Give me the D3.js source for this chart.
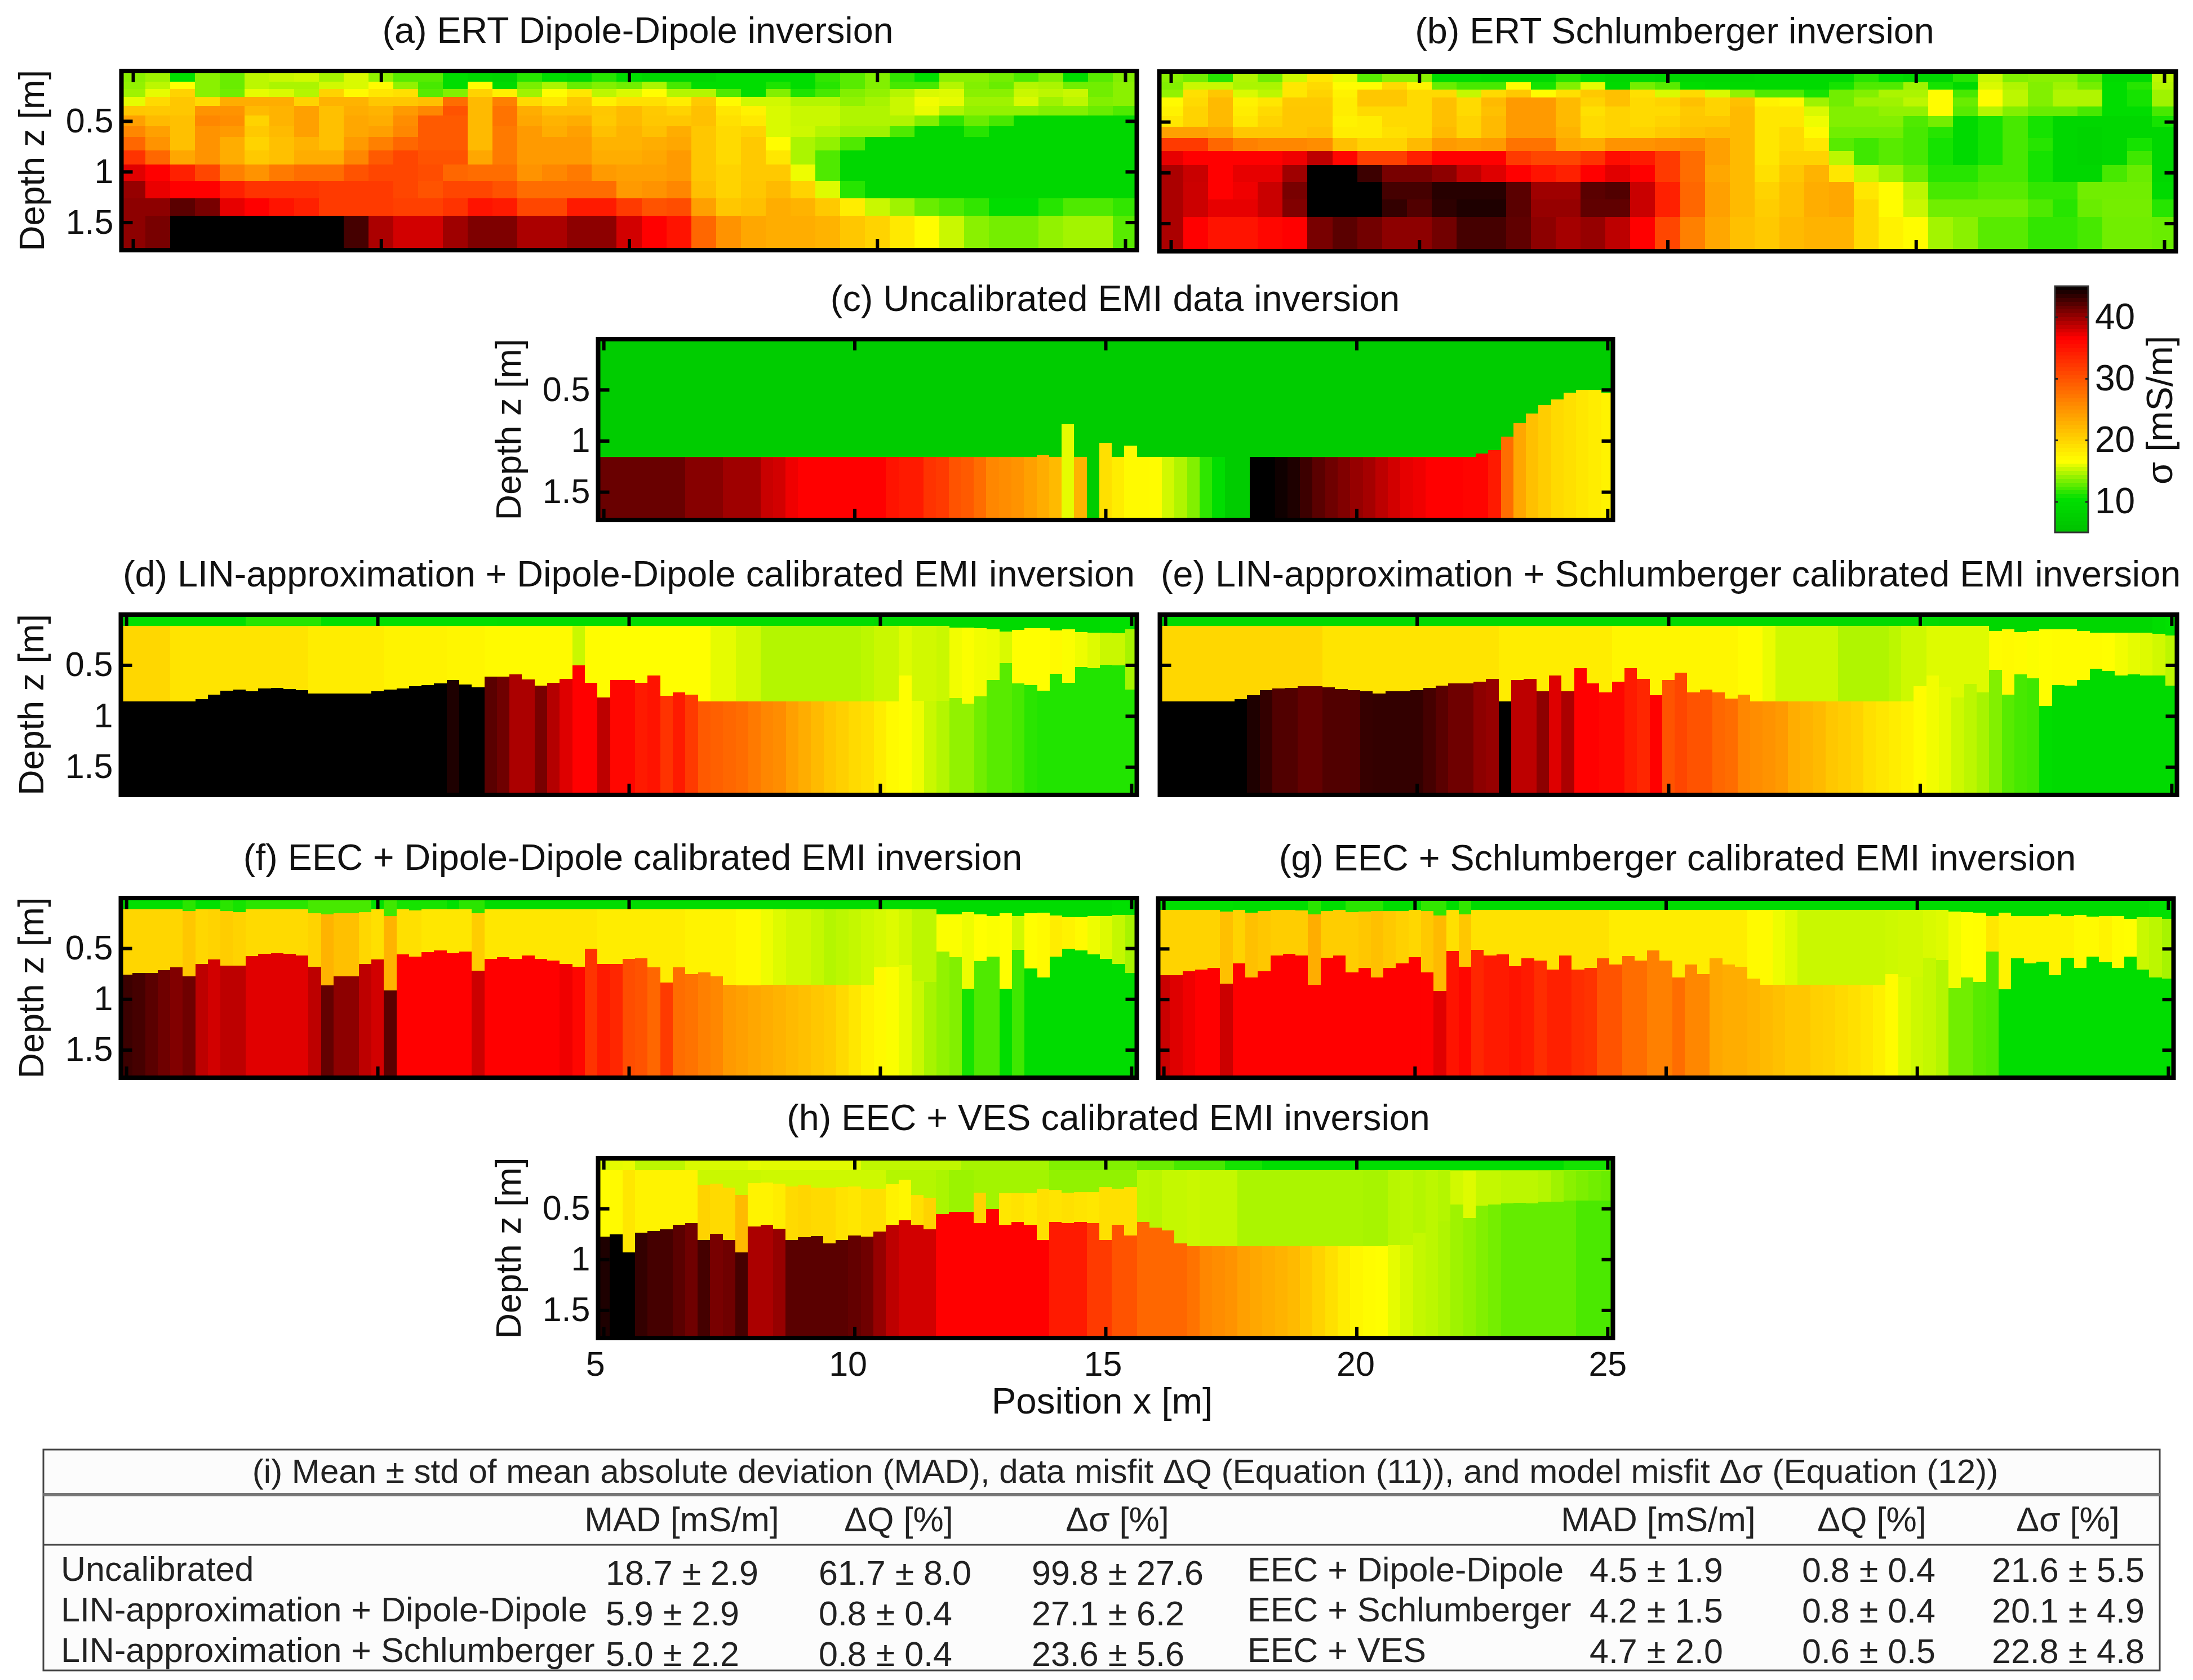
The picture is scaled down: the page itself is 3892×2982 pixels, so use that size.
<!DOCTYPE html>
<html lang="en">
<head>
<meta charset="UTF-8">
<title>ERT and EMI inversions</title>
<script src="https://d3js.org/d3.v7.min.js"></script>
<style>
    html, body { margin: 0; padding: 0; background: #fff; }
    svg { display: block; }
    text { font-family: "Liberation Sans", Arial, sans-serif; fill: #111; }
</style>
</head>
<body>
<div id="chart"></div>
<script>
// colour map of sigma [mS/m]
var sigmaStops = [5, 10.5, 16.6, 36.5, 45];
var sigmaColors = ["#00c000", "#00e000", "#ffff00", "#ff0000", "#000000"];
var colorbarTicks = [10, 20, 30, 40];
var positionTicks = [5, 10, 15, 20, 25];
var positionLabelShift = [-15, -12, -5, -2, 0];
var depthTicks = [0.5, 1, 1.5];

// ERT grids: 41 columns (0.5 m), 13 depth rows
var ertRowEdges = [0, .111, .185, .26, .352, .445, .551, .658, .788, .928, 1.09, 1.262, 1.437, 1.775];

var ertDipole = [
[13.8,14.3,10.5,13.8,13,15,15.3,15.5,14.5,15.7,14,12.6,12.6,10,9,8.5,11.4,10,9,11.4,10,9,9,9,10,10,10,10,11.7,12.6,13.6,11.7,10.5,13.8,13.8,13.3,12.4,13.6,10,12.6,13.6],
[14,15,16.6,13.8,13,15,14.6,14.6,15.5,15.7,17,14,12.2,10,16.8,9.5,13.4,14.6,13,13.6,13.2,14.6,12.2,10,10,10,11.2,10,11.4,12.6,13.6,12.2,12.2,14.8,13.6,13,14.8,14.6,13.2,13.2,13.8],
[14.3,16,20,13.8,13.2,16,15.7,14.8,20,17,18.5,19,12.6,13.6,20,17.8,14.3,16.8,18.5,15,15.7,16.7,14.8,14.8,12.4,10,13.6,11.2,12.2,13.6,14,14.8,15.7,15.8,13.8,13.8,15.3,15,15.3,13.2,13.8],
[16,19.5,21,19.5,23,23,23,20,22.5,22.5,21,21,21.5,28,22,26.5,19.5,18.5,21,17.8,19,19,18,20.8,17,15.5,15.5,14.8,14.8,14,14.5,15.3,16.3,16,14.3,14.3,15.7,14.3,15,13.6,13.8],
[21,20.8,21,25,25,22,22.5,24,21.5,23,22.5,24.5,26,30,22,27.5,23,21.5,21.5,21,22,20.8,20,21.5,18.5,17.6,15.7,15.3,15.3,14.7,14.7,15.3,16.1,14.7,14,14,14,13.6,13.6,13,12.4],
[24,22,21.5,26,25.5,20,22.5,24,21.5,23.5,23,25.5,29.5,29.5,22,27.5,23.5,22.5,23,20.8,22,21,21,21.5,19,18.3,15.7,15.3,15.3,14.7,14.7,14.7,13.6,11.6,13,12.2,9,9,9,9,9],
[26,24,21.5,25,24.5,20.8,22,24,21.5,23.5,24,26,29.5,29.5,22,27,24.5,23,24,21.5,22.5,21.5,23,21,19.5,20,15.7,15.4,14.8,14.3,14.3,12.4,9,9,11.4,9,9,9,9,9,9],
[28.5,25,21.5,25,23,20,21.5,22.5,21.5,24.5,26.5,28.5,29.5,29.5,22,27,24.5,24.5,24.5,22.5,22.5,23,23.5,21,19.5,20.8,16.8,14.6,14,12.4,9,9,9,9,9,9,9,9,9,9,9],
[32.5,28.5,23.5,25,23,20.8,21.5,23,23,26,29.5,31,30,30,23.5,27,24.5,24.5,24.5,23,23,23.5,24.5,21,19.5,20.8,18.5,14.6,12.4,9,9,9,9,9,9,9,9,9,9,9,9],
[37.5,36.5,34,31,26.5,25,27,28,28,30,31,31,30.5,28.5,28,28,25,26,27,24.5,24,24,24.5,21,20,20.8,20.8,16.2,12.4,9,9,9,9,9,9,9,9,9,9,9,9],
[40,37.2,36.5,36.5,34,32.5,32.5,32.5,32,32,32,31,30,31,31,30,28,28,28,28,24.5,25,26,21.5,20,21,22,20,15.8,11.4,9,9,9,9,9,9,9,9,9,9,9],
[40.3,40.3,42,41,37.3,36.5,35,34,32,32,32,31.5,31.5,32.5,35,34.5,31,31,34.5,34.5,32,30,30.5,24,21,21.5,23,22.5,20.8,18,15.3,14.3,13,12.4,11.7,10,10,11.4,12.4,12.4,11.7],
[40.3,41,45,45,45,45,45,45,45,42.7,39.3,38,38,39.7,40.8,40.8,39.3,39.3,40.3,40.3,38,36.5,35,28.5,25,23.5,23,23,22.5,21,20,18.3,16.8,15.3,13.8,13.3,13.3,14,14.4,14.4,12.6]
];

var ertSchlumberger = [
[13.8,13.2,11.4,14.7,13.2,15.4,18.5,16,12.6,13.8,13.8,10,10,9.5,9.5,9.5,11.4,10,9,9.5,9,9,9,9,9.5,9.5,9.5,9.5,11.4,10,9,9,11.4,15.3,13.6,13.8,13.8,12.6,9.5,9.5,15],
[13.6,15.3,15.3,14.6,14.6,18.5,19.5,16.8,16.8,19.5,17.5,13,12.2,12.2,16.8,11,13.6,16,9.5,13.3,12.6,10,9.5,9.5,9.5,9.5,9.5,11,12.4,12.4,14.3,11,9.5,15.7,14.7,13.6,14.3,13.3,10,11.4,14.8],
[14,19,21,15.7,15,18.5,20,17.6,21,21,19.5,19.5,15.2,19.5,20.8,16.8,19,20.8,21.5,19,15.7,19.5,15.7,14,12.4,12.4,11,13.2,13.6,14.6,14.6,16.8,12.2,16.8,15,13.6,14.7,14.7,10,11,14.3],
[17,19.5,22,17.6,18.5,20.8,20.8,18,21,21,19.5,21.5,19.5,22,24.5,24.5,22,20,21.5,19.5,20,21.5,20,21.5,17.6,17.2,14.3,13.2,14.3,14.3,15,16.8,13,16.8,15,13.6,14.7,14.7,10,11,14.3],
[17.6,20,22,18,19.5,21,21,18,19.5,19.5,19.5,21.5,19.5,21.5,24.5,24.5,22,19,20,19.5,19.5,20.8,20,22,18.5,18.5,15.7,13.6,13.6,14,14,16.8,12.6,14.8,13.6,13,13,12.2,10,10,12.2],
[18.5,20,22,18.5,20,21,21,17.6,18,19.5,19.5,21.5,20,22,24.5,24.5,22,19.5,20,19.5,20,21,21,22,18.5,18.5,16.2,13.6,13.6,13.6,12.4,13.3,9.5,11,12.2,11,9,9,9,9,11],
[24,24,23.5,21,21,21,21.5,18,18,19,19.5,22,20,22,24.5,24.5,22.5,19.5,20,20,20.8,21.5,22,22,18.5,19.5,17,13.2,13.2,13.2,12.2,11.4,9.5,11,12.2,11,9,8.5,9,9,9],
[32,32,28.5,26.5,26,26,25.5,21.5,20,20,22,24.5,24,24.5,27.5,27.5,23.5,23,25,25,25.5,26,24,22,18.5,19.5,18.5,12.6,12,12.6,12.2,11,9.5,11,12.2,11.4,9,8.5,9,11,9],
[37.3,36.5,36.5,36.5,36.5,37,38.7,36,31.5,31.5,34,36.5,36.5,36.5,32,31,31,32.5,35.5,34.5,32,28,24,22,18.5,20,20,15,12,12.6,12.2,11,9.5,11,12.2,11,9,8.5,9,12,9],
[39.3,38.3,36.5,37.3,37.3,39.7,45,45,43,41,41,40.3,38.7,37.6,36.5,35,34,36.5,37.5,36.5,32,28,23.5,22,19,21,22.5,18.5,15.3,14.3,13,11.4,11.4,12.2,12.2,11,9,9,12.2,13,9],
[39.3,38.2,36.5,37,38.3,41,45,45,45,42.7,42.7,43.7,43.7,43.7,42,39.7,39.7,42,42.3,38.3,34,28.5,24,22,20,21.5,23,23.5,18.5,16.8,15,12.2,12.2,12.6,12.6,11.7,11.7,13.2,13.2,13.2,9.5],
[39.3,38.2,37.3,37.3,38.3,40.7,45,45,45,43.3,42.3,43.5,44,44,42,40,40,41.8,41.8,38.3,34,28.5,24,22,20.5,21.5,23,23.5,19.5,16.8,15.3,13.2,13.2,13.2,13.2,12.4,11.4,13,13.3,13.3,11.4],
[39.3,36.5,35,35,36,36.5,41,42,41.2,40.3,40.3,41.2,42.7,42.7,41.8,40.3,39.5,40,38.7,36.5,31,26.5,23.5,21.5,20.8,22,22.5,22.5,19.5,17.6,16.8,14.4,13.8,12.6,12.6,11.7,11.7,12.2,13.2,13.2,13]
];

// EMI inversions: 81 columns (0.25 m), layer boundaries and layer conductivities
var uncalZ = [
1.156,1.156,1.156,1.156,1.156,1.156,1.156,1.156,1.156,1.156,
1.156,1.156,1.156,1.156,1.156,1.156,1.156,1.156,1.156,1.156,
1.156,1.156,1.156,1.156,1.156,1.156,1.156,1.156,1.156,1.156,
1.156,1.156,1.156,1.156,1.156,1.143,1.156,.837,1.156,1.156,
1.019,1.156,1.046,1.156,1.156,1.156,1.156,1.156,1.156,1.156,
1.156,1.156,1.156,1.156,1.156,1.156,1.156,1.156,1.156,1.156,
1.156,1.156,1.156,1.156,1.156,1.156,1.156,1.156,1.156,1.156,
1.124,1.093,.957,.828,.731,.652,.593,.531,.504,.5,
.531];
var uncalS1 = [
7,7,7,7,7,7,7,7,7,7,7,7,7,7,7,7,7,7,7,7,
7,7,7,7,7,7,7,7,7,7,7,7,7,7,7,7,7,7,7,7,
7,7,7,7,7,7,7,7,7,7,7,7,7,7,7,7,7,7,7,7,
7,7,7,7,7,7,7,7,7,7,7,7,7,7,7,7,7,7,7,7,7];
var uncalS2 = [
41.5,41.5,41.5,41.5,41.5,41.5,41.5,40.5,40.5,40.5,
39.7,39.7,39.7,38.3,38,37,36.5,36.5,36.5,36.5,
36.5,36.5,36.5,35,34.5,34.5,32.5,32,30,29.5,
28,26,25.5,25,24,23,22,16,22.5,7,
19,18,17,17,16.8,15.5,14.7,13.6,11.6,10,
7,7,45,45,44.5,44,43,42,41.3,40.7,
40,39.5,38.7,38,37.3,37,36.5,36.5,36.5,36.2,
36.2,34.5,28,23.5,21.5,20.5,19.5,19,18.5,18,
17.5];

var linDipoleZ1 = [
.116,.116,.116,.116,.116,.116,.116,.116,.116,.116,
.116,.116,.116,.116,.116,.116,.116,.116,.116,.116,
.116,.116,.116,.116,.116,.116,.116,.116,.116,.116,
.116,.116,.116,.116,.116,.116,.116,.116,.116,.116,
.116,.116,.116,.116,.116,.116,.116,.116,.116,.116,
.116,.116,.116,.116,.116,.116,.116,.116,.116,.116,
.116,.116,.116,.116,.116,.116,.134,.134,.14,.149,
.173,.155,.14,.14,.162,.149,.177,.18,.18,.19,
.149];
var linDipoleZ2 = [
.856,.856,.856,.856,.856,.856,.834,.792,.751,.742,
.76,.732,.723,.738,.745,.779,.779,.779,.779,.779,
.76,.742,.732,.71,.699,.682,.649,.692,.718,.612,
.612,.593,.644,.705,.677,.636,.501,.677,.816,.649,
.649,.677,.603,.803,.769,.792,.856,.856,.856,.856,
.856,.856,.856,.856,.856,.856,.856,.856,.856,.856,
.856,.856,.603,.853,.85,.85,.825,.881,.806,.649,
.482,.682,.699,.751,.584,.677,.519,.529,.495,.505,
.742];
var linDipoleS1 = [
10.3,10.3,10.3,10.3,10.3,10.3,10.3,10.3,10.3,10.3,
11.4,11.4,11.4,11.4,11.4,11.4,10.3,10.3,10.3,10.3,
10.3,10.3,10.3,10.3,10.3,10.3,10.3,10.3,10.3,10.3,
10,10,10,10,10,10,10,10,10,10,
10,10,10,10,10,10,10,10,10,10,
10,10,10,10,10,10,10,10,10,10,
9.5,9.5,9.5,9.5,9.5,9.5,9.5,9.5,9.5,9.5,
9.5,9.5,9.5,9.5,9.5,9.5,9.5,9.5,10.5,10.5,
10.5];
var linDipoleS2 = [
19.7,19.7,19.7,19.7,18.7,18.7,18.7,18.7,18.7,18.7,
18.7,18.7,18.7,18.7,18.7,18,18,18,18,18,
18,17.5,17.5,17.5,17.5,17.5,17.3,17.3,17.3,17,
17,17,17,17,17,17,15.3,16.8,16.8,16.7,
16.7,16.7,16.7,16.7,16.7,16.7,16.7,16,16,15.5,
15.5,14.8,14.8,14.8,14.8,14.8,14.8,14.8,14.8,15,
15.3,15.3,15.8,15.5,15.5,15.3,16.3,16.5,16.3,16.2,
15.7,16.7,16.7,16.7,17,16.5,16.2,15.8,15.3,15.3,
14.5];
var linDipoleS3 = [
45,45,45,45,45,45,45,45,45,45,
45,45,45,45,45,45,45,45,45,45,
45,45,45,45,45,45,44,45,45,42,
41.3,39.3,39.3,41,39,37.6,36.5,36.5,38.7,36,
36,34.5,35,32.5,34.5,32,29.5,29,28.5,28,
27,26,25.5,24,23,22,21,20.3,19.5,19,
18,17,16.7,16.2,15.3,14.8,14,14,13.2,12.6,
12.6,12.2,11.5,11.3,11.3,11.3,11.3,11.3,11.3,11.3,
11.3];

var linSchlumZ1 = [
.118,.118,.118,.118,.118,.118,.118,.118,.118,.118,
.118,.118,.118,.118,.118,.118,.118,.118,.118,.118,
.118,.118,.118,.118,.118,.118,.118,.118,.118,.118,
.118,.118,.118,.118,.118,.118,.118,.118,.118,.118,
.118,.118,.118,.118,.118,.118,.118,.118,.118,.118,
.118,.118,.118,.118,.118,.118,.118,.118,.118,.118,
.118,.118,.118,.118,.118,.118,.164,.149,.177,.164,
.149,.149,.149,.164,.182,.182,.182,.182,.185,.192,
.21];
var linSchlumZ2 = [
.856,.856,.856,.856,.856,.856,.834,.797,.745,.732,
.727,.71,.707,.718,.738,.747,.755,.779,.755,.755,
.745,.723,.705,.682,.682,.662,.634,.856,.649,.634,
.755,.603,.755,.529,.682,.766,.662,.529,.634,.797,
.649,.575,.766,.742,.766,.829,.788,.856,.856,.856,
.856,.856,.856,.856,.856,.856,.856,.856,.856,.856,
.707,.603,.714,.816,.686,.769,.547,.788,.593,.631,
.899,.695,.705,.649,.538,.556,.603,.593,.603,.603,
.705];
var linSchlumS1 = [
9.5,9.5,9.5,9.5,9.5,9.5,9.5,9.5,9.5,9.5,
9.5,9.5,9.5,9.5,9.5,9.5,9.5,9.5,9.5,9.5,
9.5,9.5,9.5,9.5,9.5,9.5,9.5,9.5,9.5,9.5,
9.5,9.5,9.5,9.5,9.5,9.5,9.5,9.5,9.5,9.5,
9.5,9.5,9.5,9.5,9.5,9.5,9.5,9.5,9.5,9.5,
9.5,9.5,9.5,9.5,9.5,9.5,9.5,9.5,9.5,9.5,
9.5,9.5,9,9,9,9,9,9,9,9,
9,9,9,9,9,9,9,9,9,10,
10.5];
var linSchlumS2 = [
19.7,19.7,19.7,19.7,19.7,19.7,19.7,19.7,19.7,19.7,
19.7,19.7,19.7,18.7,18.7,18.7,18.7,18.7,18.7,18.7,
18.7,18.7,18.7,18.7,18.7,18.7,18.7,18,18,18,
18,18,18,18,18,18,17.3,17.3,17.3,17.3,
17.3,17.3,17.3,17.3,17.3,17.3,16.8,16.8,16.1,15.4,
15.4,15.4,15.4,15.4,14.7,14.7,14.7,14.7,15,15.4,
15.4,15.8,15.8,15.8,15.8,15.8,16.8,17,16.8,16.5,
16.7,16.8,16.8,16.8,16.8,16.7,16.3,16,15.8,15.5,
15];
var linSchlumS3 = [
45,45,45,45,45,45,45,44,43.3,42.3,
42.3,41.7,41.7,42.3,42.3,42.3,43.2,43.3,43.3,43.3,
43.3,42.7,42,41.3,41.3,40.3,40,45,38.7,38.7,
40.3,37.6,39.3,36.5,36.5,36,36,34.5,33.5,36.5,
30,31,30,30,28.5,28,26,25.5,25,24.5,
23,22.5,22,21,20.5,20,19,18.5,18,17.5,
16.8,16.3,16,15.4,15,14.5,13.6,12.6,12.2,12,
10,9.5,9.5,9.5,9.5,9.5,9.5,9.5,9.5,9.5,
9.5];

var eecDipoleZ1 = [
.117,.117,.117,.117,.117,.135,.117,.117,.135,.144,
.117,.117,.117,.117,.117,.154,.169,.157,.154,.144,
.117,.181,.117,.126,.117,.117,.117,.117,.154,.117,
.117,.117,.117,.117,.117,.117,.117,.117,.117,.117,
.117,.117,.117,.117,.117,.117,.117,.117,.117,.117,
.117,.117,.117,.117,.117,.117,.117,.117,.117,.117,
.117,.117,.117,.117,.117,.169,.169,.144,.169,.181,
.154,.185,.154,.15,.176,.196,.196,.185,.181,.172,
.172];
var eecDipoleZ2 = [
.759,.746,.746,.713,.687,.774,.654,.611,.669,.669,
.576,.557,.548,.557,.57,.685,.867,.774,.774,.654,
.611,.913,.561,.58,.539,.52,.548,.533,.719,.607,
.589,.607,.57,.607,.62,.654,.681,.502,.654,.654,
.607,.598,.687,.839,.687,.756,.737,.774,.862,.865,
.865,.862,.862,.862,.862,.862,.862,.862,.862,.862,
.687,.681,.667,.82,.83,.533,.589,.898,.626,.58,
.898,.515,.7,.787,.58,.502,.524,.561,.607,.654,
.746];
var eecDipoleS1 = [
10.3,10.3,10.3,10.3,10.3,11.5,10.5,10.5,11.5,11,
11.5,11.5,11.5,11.5,11.5,12.2,12.2,12.2,12.2,12.2,
10.5,12,11,11,11,11,10.5,11.5,11.5,9.8,
9.8,9.8,9.8,9.8,9.8,9.8,9.8,9.8,9.8,9.8,
9.8,9.8,9.8,9.8,9.8,9.8,9.8,9.8,9.8,9.8,
9.8,9.8,9.8,9.8,9.8,9.8,9.8,9.8,9.8,9.8,
9.8,9.8,9.8,9.8,9.8,9.8,9.8,9.8,9.8,9.8,
9.8,9.8,9.8,9.8,9.8,9.8,9.8,9.8,9.8,10.5,
10.5];
var eecDipoleS2 = [
19.8,19.8,19.8,19.8,19.8,21,19.7,20,20.5,20,
19.5,19.5,19.5,19.5,19.5,20,22.5,21.5,21.5,19.7,
19,22.5,19,19,18.5,18.5,18.5,18.5,20.5,18.5,
18.5,18.5,18.5,18.5,18.5,18.5,18.5,18.5,18,18,
18,18,18,18,18,17.5,17.5,17.5,17.5,17,
17,16.2,15.8,15.5,15.5,15.2,14.8,15,15.2,15.4,
15.6,15.8,15.5,15,15,16.5,16.5,16.2,16.6,16.5,
16.7,15.5,16.7,17,18,17.5,17,16.2,15.8,15.2,
14.5];
var eecDipoleS3 = [
43,42.7,42,41.3,40.7,41.3,38.7,38,38.7,38.7,
37.5,37.5,37.5,37.5,37.5,38.7,41.7,40.3,40.3,38.7,
38,42,36.5,36.5,36.5,36.5,36.5,36.5,38.2,36.5,
36.5,36.5,36.5,36.5,36.5,37,36,32.5,34.5,33.5,
30.5,30,28.5,32,28,27.5,26.5,26,24.5,24,
23.5,23,22.5,22,21.5,21,20.5,19.5,18.5,17.5,
17,16.5,16,15.3,14.5,14,13.6,11,12.4,12.4,
10,12,9.8,9.8,9.8,9.8,9.8,9.8,9.8,9.8,
9.8];

var eecSchlumZ1 = [
.117,.117,.117,.117,.117,.135,.117,.144,.13,.117,
.117,.122,.163,.13,.117,.141,.135,.13,.13,.13,
.117,.13,.172,.117,.163,.117,.117,.117,.117,.117,
.117,.117,.117,.117,.117,.117,.117,.117,.117,.117,
.117,.117,.117,.117,.117,.117,.117,.117,.117,.117,
.117,.117,.117,.117,.117,.117,.117,.117,.117,.117,
.117,.117,.117,.135,.141,.144,.176,.144,.176,.176,
.176,.163,.176,.169,.185,.176,.176,.204,.187,.187,
.204];
var eecSchlumZ2 = [
.765,.765,.724,.706,.691,.848,.644,.783,.722,.57,
.552,.57,.857,.589,.57,.737,.691,.783,.691,.644,
.585,.737,.919,.524,.678,.511,.57,.556,.672,.598,
.617,.709,.57,.704,.691,.598,.659,.574,.617,.519,
.617,.783,.659,.752,.598,.659,.678,.796,.857,.857,
.857,.857,.857,.857,.857,.857,.857,.857,.752,.778,
.778,.589,.611,.889,.783,.83,.53,.904,.598,.644,
.63,.765,.589,.691,.58,.635,.691,.58,.704,.783,
.796];
var eecSchlumS1 = [
10,10,10,10,10,10.5,10,10,10,10,
10,10,11.5,10,10,11.5,11.5,11.5,10,10,
10,11.7,11.7,10,11.7,9.7,9.7,9.7,9.7,9.7,
9.7,9.7,9.7,9.7,9.7,9.7,9.7,9.7,9.7,9.7,
9.7,9.7,9.7,9.7,9.7,9.7,9.7,9.7,9.7,9.7,
9.7,9.7,9.7,9.7,9.7,9.7,9.7,9.7,9.7,9.7,
9.7,9.7,9.7,9.7,9.7,9.7,9.7,9.7,9.7,9.7,
9.7,9.7,9.7,9.7,9.7,9.7,9.7,9.7,9.7,10.5,
10.5];
var eecSchlumS2 = [
20,20,20,20,20,21.5,20,21.5,21,20.5,
20.5,20.5,23,20.5,20.5,20.5,21,21.5,20.8,20.2,
19.7,20.8,22,19,21,18.9,18.9,18.9,18.9,18.9,
18.9,18.9,18.9,18.9,18.9,18.9,18,18,18,18,
18,18,18,18,18,18,18,17,17,16.2,
15.8,15.3,15.3,15.3,15.3,15.3,15.3,15.3,15.4,15.5,
15.5,15.7,15.8,16.3,16.6,16.7,18.5,17.5,17.5,17.5,
17.5,17.5,17.5,17,17,17.5,16.8,16.7,15.3,15,
14.5];
var eecSchlumS3 = [
38.3,37.6,37,36.5,36.5,38.2,36.5,36.5,36.5,36.5,
36.5,36.5,36.5,36.5,36.5,36.5,36.5,36.5,36.5,36.5,
36.5,36.4,37.5,35,36,33.5,34.5,34.5,35,34.5,
33,34,34,33,32.5,30,30,28,28,26.5,
26.5,28,26,26,23.5,23,23,22.5,22,21.5,
21,21,20.3,20,19.5,19,18.5,17.8,16.9,15.8,
15.4,15.2,14.8,13.2,13.2,12.6,12.4,10,10,10,
10,10,10,10,10,10,10,10,10,10,
10];

var eecVesZ0 = [
.121,.121,.121,.121,.121,.121,.121,.121,.121,.121,
.121,.121,.121,.121,.121,.121,.121,.121,.121,.121,
.121,.121,.121,.121,.121,.121,.121,.121,.121,.121,
.121,.121,.121,.121,.121,.121,.121,.121,.121,.121,
.121,.121,.121,.121,.121,.121,.121,.121,.121,.121,
.121,.121,.121,.121,.121,.121,.121,.121,.121,.121,
.121,.121,.121,.121,.121,.121,.121,.121,.121,.121,
.121,.121,.121,.121,.121,.121,.121,.121,.121,.121,
.121];
var eecVesZ1 = [
.121,.121,.121,.121,.121,.121,.121,.121,.269,.255,
.296,.364,.249,.245,.255,.282,.269,.296,.296,.286,
.282,.306,.306,.259,.214,.364,.393,.553,.532,.532,
.343,.502,.351,.347,.347,.306,.317,.343,.337,.337,
.286,.306,.29,.121,.121,.121,.121,.121,.121,.121,
.121,.121,.121,.121,.121,.121,.121,.121,.121,.121,
.121,.121,.121,.121,.121,.121,.121,.121,.125,.125,
.125,.125,.125,.125,.125,.125,.125,.125,.125,.125,
.125];
var eecVesZ2 = [
.779,.754,.933,.738,.721,.707,.662,.645,.81,.748,
.81,.933,.676,.662,.701,.81,.783,.769,.845,.81,
.765,.779,.728,.662,.615,.662,.703,.553,.532,.532,
.645,.502,.662,.631,.662,.81,.631,.645,.635,.645,
.81,.662,.763,.631,.687,.717,.841,.872,.872,.872,
.872,.872,.872,.872,.872,.872,.872,.872,.872,.872,
.872,.872,.872,.861,.857,.738,.635,.625,.46,.594,
.471,.46,.45,.442,.45,.43,.43,.423,.419,.419,
.419];
var eecVesS0 = [
15.5,16,16.1,15,15,15,15,15.7,15.7,15.7,
15.7,15.7,16,15.9,15.9,15.9,15.9,15.9,15.9,15.9,
15.9,15.1,15.1,15.1,15.1,15.1,15.1,15.1,15.1,14.5,
14.5,14.5,14.5,14.5,14.5,14.5,13.6,13.6,13.6,13.6,
13.6,13.6,13.6,13,13,13,12.2,12.2,12.2,12.2,
11,11,11,10,10,10,10,10,10,10,
10,10,10,10,10,10,10,10,10,10,
10,10,10,10,10,10,10,11,11,11,
11];
var eecVesS1 = [
15,15,15,15,15,15,15,15,15.3,15.3,
15.3,15.3,15.3,15.4,15.4,15.4,15.4,15.4,15.4,15.4,
15.4,15.4,15.4,14.8,14.8,14.8,14.8,14.6,14.2,14.2,
14.4,14.4,14.4,14.4,14.4,14.4,14,14,14,14,
14,14,14,14,14,14,14,14,14,14,
14,14,14,14,14,14,14,14,14,14,
14,14,14,14,14,14,14,14,14,14,
14,14,14,14,14,14,14,14,14,14,
14];
var eecVesS2 = [
16.8,17,18.5,17.5,17.5,17.5,17.5,17.5,20,19.5,
19.5,22,17.5,17.5,18,19.5,19.8,19.5,19.5,18.8,
18.5,19,19,17.6,17.2,19,20,17,17,17,
20,17,18.5,18.8,18.3,19,18.7,19,18.7,18.5,
19,19,19,15,14.9,15.2,15.2,15.3,15.2,15.2,
15.2,14.6,14.6,14.6,14.6,14.6,14.6,14.6,14.6,14.6,
14.6,14.5,14.5,14.9,15,14.8,15,14.8,15.5,15.8,
15.2,15.2,15,15,15,14.8,14.3,13.8,13.5,13.2,
13];
var eecVesS3 = [
44,45,45,43.3,42.7,42.7,42,41.3,42.7,41,
41.3,42.7,39.3,39.3,40,42,42,42,42,42,
41.7,41.3,40,38.7,38,38,38,36.5,36.5,36.5,
36.5,36.5,36.5,36.5,36.5,36.5,34.5,34.5,34.5,32,
32,30,30,28.5,28.5,28.5,28.5,27.5,26,25.5,
25,24,23.5,23,22.5,22,21,20,19,18,
17.2,16.8,16.7,16,15.6,15.2,15,14.7,14.3,14,
13.6,13.3,12.9,12.9,12.9,12.9,12.9,12.9,12.3,12.3,
12.3];

// table (i)
var tableTitle = "(i) Mean \u00b1 std of mean absolute deviation (MAD), data misfit \u0394Q (Equation (11)), and model misfit \u0394\u03c3 (Equation (12))";
var tableHeaders = ["MAD [mS/m]", "\u0394Q [%]", "\u0394\u03c3 [%]"];
var tableLeftNames = ["Uncalibrated", "LIN-approximation + Dipole-Dipole", "LIN-approximation + Schlumberger"];
var tableLeftMad = ["18.7 \u00b1 2.9", "5.9 \u00b1 2.9", "5.0 \u00b1 2.2"];
var tableLeftQ = ["61.7 \u00b1 8.0", "0.8 \u00b1 0.4", "0.8 \u00b1 0.4"];
var tableLeftSigma = ["99.8 \u00b1 27.6", "27.1 \u00b1 6.2", "23.6 \u00b1 5.6"];
var tableRightNames = ["EEC + Dipole-Dipole", "EEC + Schlumberger", "EEC + VES"];
var tableRightMad = ["4.5 \u00b1 1.9", "4.2 \u00b1 1.5", "4.7 \u00b1 2.0"];
var tableRightQ = ["0.8 \u00b1 0.4", "0.8 \u00b1 0.4", "0.6 \u00b1 0.5"];
var tableRightSigma = ["21.6 \u00b1 5.5", "20.1 \u00b1 4.9", "22.8 \u00b1 4.8"];

var width = 3892, height = 2982;
var svg = d3.select("#chart").append("svg").attr("width", width).attr("height", height);

var color = d3.scaleLinear().domain(sigmaStops).range(sigmaColors).clamp(true);

// frame box of every panel, outer pixels, and the x of its title centre
var ertX = [4.75, 25.25], emiX = [4.875, 25.125];
var panels = [
    {title: "(a) ERT Dipole-Dipole inversion", tx: 1132, box: [212, 122, 2021, 448], xd: ertX, grid: ertDipole, depthTicksOn: true},
    {title: "(b) ERT Schlumberger inversion", tx: 2972, box: [2054, 123, 3865, 450], xd: ertX, grid: ertSchlumberger},
    {title: "(c) Uncalibrated EMI data inversion", tx: 1979, box: [1058, 598, 2866, 927], xd: emiX, edges: [uncalZ], vals: [uncalS1, uncalS2], depthTicksOn: true},
    {title: "(d) LIN-approximation + Dipole-Dipole calibrated EMI inversion", tx: 1116, box: [211, 1087, 2021, 1415], xd: emiX, edges: [linDipoleZ1, linDipoleZ2], vals: [linDipoleS1, linDipoleS2, linDipoleS3], depthTicksOn: true},
    {title: "(e) LIN-approximation + Schlumberger calibrated EMI inversion", tx: 2965, box: [2055, 1087, 3867, 1415], xd: emiX, edges: [linSchlumZ1, linSchlumZ2], vals: [linSchlumS1, linSchlumS2, linSchlumS3]},
    {title: "(f) EEC + Dipole-Dipole calibrated EMI inversion", tx: 1123, box: [211, 1590, 2021, 1917], xd: emiX, edges: [eecDipoleZ1, eecDipoleZ2], vals: [eecDipoleS1, eecDipoleS2, eecDipoleS3], depthTicksOn: true},
    {title: "(g) EEC + Schlumberger calibrated EMI inversion", tx: 2977, box: [2052, 1591, 3861, 1917], xd: emiX, edges: [eecSchlumZ1, eecSchlumZ2], vals: [eecSchlumS1, eecSchlumS2, eecSchlumS3]},
    {title: "(h) EEC + VES calibrated EMI inversion", tx: 1967, box: [1058, 2052, 2866, 2379], xd: emiX, edges: [eecVesZ0, eecVesZ1, eecVesZ2], vals: [eecVesS0, eecVesS1, eecVesS2, eecVesS3], depthTicksOn: true, xLabels: true}
];

var zMax = 1.775;

panels.forEach(function(p) {
    var x = d3.scaleLinear().domain(p.xd).range([p.box[0] + 2, p.box[2] - 2]);
    var y = d3.scaleLinear().domain([0, zMax]).range([p.box[1] + 3, p.box[3] - 4]);
    var g = svg.append("g");

    var cells = [];
    if (p.grid) {
        // ERT: column x centred on 5, 5.5, ...
        p.grid.forEach(function(row, r) {
            row.forEach(function(v, c) {
                cells.push({x0: p.xd[0] + c * 0.5, x1: p.xd[0] + (c + 1) * 0.5, z0: ertRowEdges[r], z1: ertRowEdges[r + 1], v: v});
            });
        });
    } else {
        p.vals[0].forEach(function(_, c) {
            p.vals.forEach(function(arr, k) {
                var top = k === 0 ? 0 : p.edges[k - 1][c];
                var bot = k < p.edges.length ? p.edges[k][c] : zMax;
                if (bot > top) cells.push({x0: p.xd[0] + c * 0.25, x1: p.xd[0] + (c + 1) * 0.25, z0: top, z1: bot, v: arr[c]});
            });
        });
    }

    g.append("g").selectAll("rect").data(cells).join("rect")
        .attr("x", function(d) { return x(d.x0); })
        .attr("y", function(d) { return y(d.z0); })
        .attr("width", function(d) { return x(d.x1) - x(d.x0) + 0.5; })
        .attr("height", function(d) { return y(d.z1) - y(d.z0) + 0.5; })
        .attr("fill", function(d) { return color(d.v); })
        .attr("shape-rendering", "crispEdges");

    // inward ticks on all four sides
    var tickLen = -20;
    var left = d3.axisLeft(y).tickValues(depthTicks).tickSize(tickLen).tickPadding(14).tickFormat(d3.format(""));
    var right = d3.axisRight(y).tickValues(depthTicks).tickSize(tickLen).tickFormat("");
    var top = d3.axisTop(x).tickValues(positionTicks).tickSize(tickLen).tickFormat("");
    var bottom = d3.axisBottom(x).tickValues(positionTicks).tickSize(tickLen).tickPadding(24).tickFormat(p.xLabels ? d3.format("d") : "");

    var fx0 = p.box[0] + 3.5, fx1 = p.box[2] - 3.5, fy0 = p.box[1] + 4, fy1 = p.box[3] - 4;
    var axes = [
        g.append("g").attr("transform", "translate(" + fx0 + ",0)").call(left),
        g.append("g").attr("transform", "translate(" + fx1 + ",0)").call(right),
        g.append("g").attr("transform", "translate(0," + fy0 + ")").call(top),
        g.append("g").attr("transform", "translate(0," + fy1 + ")").call(bottom)
    ];
    axes.forEach(function(a) {
        a.attr("font-family", null).attr("font-size", null);
        a.select(".domain").remove();
        a.selectAll("line").attr("stroke", "#000").attr("stroke-width", 6);
        a.selectAll("text").attr("font-size", 61).style("fill", "#111");
    });
    axes[3].selectAll("text").attr("dx", function(d, i) { return positionLabelShift[i]; });
    if (!p.depthTicksOn) axes[0].selectAll("text").remove();

    g.append("rect")
        .attr("x", fx0).attr("y", fy0)
        .attr("width", fx1 - fx0).attr("height", fy1 - fy0)
        .attr("fill", "none").attr("stroke", "#000").attr("stroke-width", 8);

    g.append("text")
        .attr("x", p.tx).attr("y", p.box[1] - 46)
        .attr("text-anchor", "middle").attr("font-size", 64.7)
        .text(p.title);

    if (p.depthTicksOn) {
        g.append("text")
            .attr("transform", "translate(" + (p.box[0] - 134) + "," + (p.box[1] + p.box[3]) / 2 + ") rotate(-90)")
            .attr("text-anchor", "middle").attr("font-size", 63)
            .text("Depth z [m]");
    }
});

svg.append("text")
    .attr("x", 1956).attr("y", 2509)
    .attr("text-anchor", "middle").attr("font-size", 65.4)
    .text("Position x [m]");

// colour bar
var barY = d3.scaleLinear().domain([5, 45]).range([945, 508]);
var barLevels = d3.range(5, 45, 0.625);
var bar = svg.append("g");
bar.selectAll("rect").data(barLevels).join("rect")
    .attr("x", 3647).attr("width", 59)
    .attr("y", function(d) { return barY(d + 0.625); })
    .attr("height", function(d) { return barY(d) - barY(d + 0.625) + 0.5; })
    .attr("fill", function(d) { return color(d + 0.3); })
    .attr("shape-rendering", "crispEdges");
bar.append("rect")
    .attr("x", 3647).attr("y", 508).attr("width", 59).attr("height", 437)
    .attr("fill", "none").attr("stroke", "#333").attr("stroke-width", 3);
var barAxis = d3.axisRight(barY).tickValues(colorbarTicks).tickSize(-5).tickPadding(12).tickFormat(d3.format("d"));
var barG = bar.append("g").attr("transform", "translate(3706,0)").call(barAxis);
barG.attr("font-family", null).attr("font-size", null);
barG.select(".domain").remove();
barG.selectAll("line").attr("stroke", "#222").attr("stroke-width", 3);
barG.selectAll("text").attr("font-size", 64).style("fill", "#111");
barG.selectAll(".tick").append("line").attr("x1", -59).attr("x2", -54).attr("stroke", "#222").attr("stroke-width", 3);
bar.append("text")
    .attr("transform", "translate(3855,728) rotate(-90)")
    .attr("text-anchor", "middle").attr("font-size", 65)
    .text("\u03c3 [mS/m]");

// table
var table = svg.append("g");
table.append("rect").attr("x", 77).attr("y", 2573).attr("width", 3756).attr("height", 392)
    .attr("fill", "#fcfcfc").attr("stroke", "#444").attr("stroke-width", 3);
table.append("line").attr("x1", 77).attr("x2", 3833).attr("y1", 2653).attr("y2", 2653)
    .attr("stroke", "#777").attr("stroke-width", 6);
table.append("line").attr("x1", 77).attr("x2", 3833).attr("y1", 2742).attr("y2", 2742)
    .attr("stroke", "#444").attr("stroke-width", 3);

function tableText(str, px, py, anchor, size) {
    table.append("text").attr("x", px).attr("y", py)
        .attr("text-anchor", anchor || "start").attr("font-size", size || 61)
        .style("fill", "#222").text(str);
}
tableText(tableTitle, 1997, 2632, "middle", 60.1);
[[1210, 1595, 1983], [2943, 3322, 3670]].forEach(function(cols) {
    tableHeaders.forEach(function(h, i) { tableText(h, cols[i], 2718, "middle"); });
});
var leftNameY = [2806, 2878, 2950], leftValY = [2813, 2885, 2957];
var rightNameY = [2807, 2878, 2950], rightValY = [2808, 2880, 2952];
tableLeftNames.forEach(function(s, i) {
    tableText(s, 108, leftNameY[i]);
    tableText(tableLeftMad[i], 1075, leftValY[i]);
    tableText(tableLeftQ[i], 1453, leftValY[i]);
    tableText(tableLeftSigma[i], 1831, leftValY[i]);
});
tableRightNames.forEach(function(s, i) {
    tableText(s, 2214, rightNameY[i]);
    tableText(tableRightMad[i], 2821, rightValY[i]);
    tableText(tableRightQ[i], 3198, rightValY[i]);
    tableText(tableRightSigma[i], 3535, rightValY[i]);
});
</script>
</body>
</html>
